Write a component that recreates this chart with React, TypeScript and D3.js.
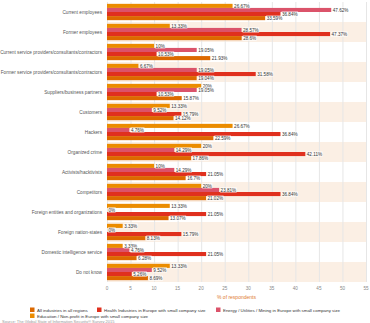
import React, { useEffect } from "react";
import * as d3 from "d3";

const categories = [
  "Current employees",
  "Former employees",
  "Current service providers/consultants/contractors",
  "Former service providers/consultants/contractors",
  "Suppliers/business partners",
  "Customers",
  "Hackers",
  "Organized crime",
  "Activists/hacktivists",
  "Competitors",
  "Foreign entities and organizations",
  "Foreign nation-states",
  "Domestic intelligence service",
  "Do not know",
];

const education = [26.67, 13.33, 10, 6.67, 20, 13.33, 26.67, 20, 10, 20, 13.33, 3.33, 3.33, 13.33];
const energy = [47.62, 28.57, 19.05, 19.05, 19.05, 9.52, 4.76, 14.29, 14.29, 23.81, 0, 0, 4.76, 9.52];
const health = [36.84, 47.37, 10.53, 31.58, 10.53, 15.79, 36.84, 42.11, 21.05, 36.84, 21.05, 15.79, 21.05, 5.26];
const allIndustries = [33.59, 28.6, 21.93, 19.04, 15.87, 14.12, 22.59, 17.86, 16.7, 21.02, 13.07, 8.13, 6.28, 8.69];

const ticks = [0, 5, 10, 15, 20, 25, 30, 35, 40, 45, 50, 55];

// bar order inside a category, top to bottom
const series = [
  { key: "edu", name: "Education / Non-profit in Europe with small company size", color: "#EB8C00", values: education },
  { key: "energy", name: "Energy / Utilities / Mining in Europe with small company size", color: "#DB536A", values: energy },
  { key: "health", name: "Health Industries in Europe with small company size", color: "#E0301E", values: health },
  { key: "all", name: "All industries in all regions", color: "#DC6900", values: allIndustries },
];

const FONT = "'Liberation Sans', Arial, sans-serif";

const App = () => {
  useEffect(() => {
    drawChart();
  }, []);

  const drawChart = () => {
    const w = 370;
    const h = 323;
    d3.select("#chart").selectAll("*").remove();
    const svg = d3.select("#chart")
      .append("svg")
      .attr("width", w)
      .attr("height", h)
      .style("display", "block")
      .style("font-family", FONT);

    const x = d3.scaleLinear().domain([0, 55]).range([107, 366]);
    const y = d3.scaleBand().domain(categories).range([2, 282]);
    const y1 = d3.scaleBand()
      .domain(series.map((s) => s.key))
      .range([0, y.bandwidth()])
      .paddingOuter(0.45);

    // alternating row shading
    svg.append("g")
      .selectAll("rect")
      .data(categories.filter((_, i) => i % 2 === 1))
      .enter()
      .append("rect")
      .attr("x", x(0))
      .attr("y", (d) => y(d))
      .attr("width", x(55) - x(0))
      .attr("height", y.bandwidth())
      .attr("fill", "#FBEFE4");

    // vertical grid
    svg.append("g")
      .selectAll("line")
      .data(ticks)
      .enter()
      .append("line")
      .attr("x1", (d) => x(d) + 0.5)
      .attr("x2", (d) => x(d) + 0.5)
      .attr("y1", y.range()[0])
      .attr("y2", y.range()[1])
      .attr("stroke", "#E6E6E6")
      .attr("stroke-width", 1);

    // category labels
    svg.append("g")
      .selectAll("text")
      .data(categories)
      .enter()
      .append("text")
      .attr("x", 102)
      .attr("y", (d) => y(d) + y.bandwidth() / 2)
      .attr("dy", "0.35em")
      .attr("text-anchor", "end")
      .attr("font-size", 4.7)
      .attr("fill", "#555")
      .text((d) => d);

    const groups = svg.append("g")
      .selectAll("g")
      .data(categories)
      .enter()
      .append("g")
      .attr("transform", (d) => "translate(0," + y(d) + ")");

    groups.selectAll("rect")
      .data((d, i) => series.map((s) => ({ key: s.key, color: s.color, v: s.values[i] })))
      .enter()
      .append("rect")
      .attr("x", x(0))
      .attr("y", (d) => y1(d.key))
      .attr("width", (d) => x(d.v) - x(0))
      .attr("height", y1.bandwidth())
      .attr("fill", (d) => d.color);

    // value labels with a light backdrop
    const labels = groups.selectAll("g.lbl")
      .data((d, i) => series.map((s) => ({ key: s.key, v: s.values[i] })))
      .enter()
      .append("g")
      .attr("class", "lbl")
      .attr("transform", (d) => "translate(" + (x(d.v) + 1) + "," + (y1(d.key) + y1.bandwidth() / 2) + ")");

    labels.append("rect")
      .attr("x", 0)
      .attr("y", -2.6)
      .attr("height", 5.2)
      .attr("fill", "#fff")
      .attr("opacity", 0.75);

    labels.append("text")
      .attr("x", 0.5)
      .attr("dy", "0.35em")
      .attr("font-size", 4.6)
      .attr("fill", "#333")
      .text((d) => d.v + "%");

    labels.each(function () {
      const g = d3.select(this);
      const bb = (g.select("text").node() as SVGTextElement).getBBox();
      g.select("rect").attr("width", bb.width + 1);
    });

    // x axis tick labels
    svg.append("g")
      .selectAll("text")
      .data(ticks)
      .enter()
      .append("text")
      .attr("x", (d) => x(d))
      .attr("y", 290)
      .attr("text-anchor", "middle")
      .attr("font-size", 4.6)
      .attr("fill", "#888")
      .text((d) => d);

    svg.append("text")
      .attr("x", (x(0) + x(55)) / 2)
      .attr("y", 299)
      .attr("text-anchor", "middle")
      .attr("font-size", 5)
      .attr("fill", "#E07A30")
      .text("% of respondents");

    // legend
    const legendItems = [
      { s: series[3], x: 30, y: 310 },
      { s: series[2], x: 97, y: 310 },
      { s: series[1], x: 216, y: 310 },
      { s: series[0], x: 30, y: 316 },
    ];
    const legend = svg.append("g")
      .selectAll("g")
      .data(legendItems)
      .enter()
      .append("g")
      .attr("transform", (d) => "translate(" + d.x + "," + d.y + ")");
    legend.append("rect")
      .attr("x", 0)
      .attr("y", -2.5)
      .attr("width", 4.5)
      .attr("height", 4.5)
      .attr("fill", (d) => d.s.color);
    legend.append("text")
      .attr("x", 7)
      .attr("dy", "0.35em")
      .attr("font-size", 4.4)
      .attr("fill", "#333")
      .text((d) => d.s.name);

    svg.append("text")
      .attr("x", 2)
      .attr("y", 323)
      .attr("font-size", 4)
      .attr("fill", "#999")
      .text("Source: The Global State of Information Security® Survey 2015");
  };

  return (
    <div style={{ position: "absolute", left: 0, top: 0 }}>
      <div id="chart"></div>
    </div>
  );
};

export default App;
